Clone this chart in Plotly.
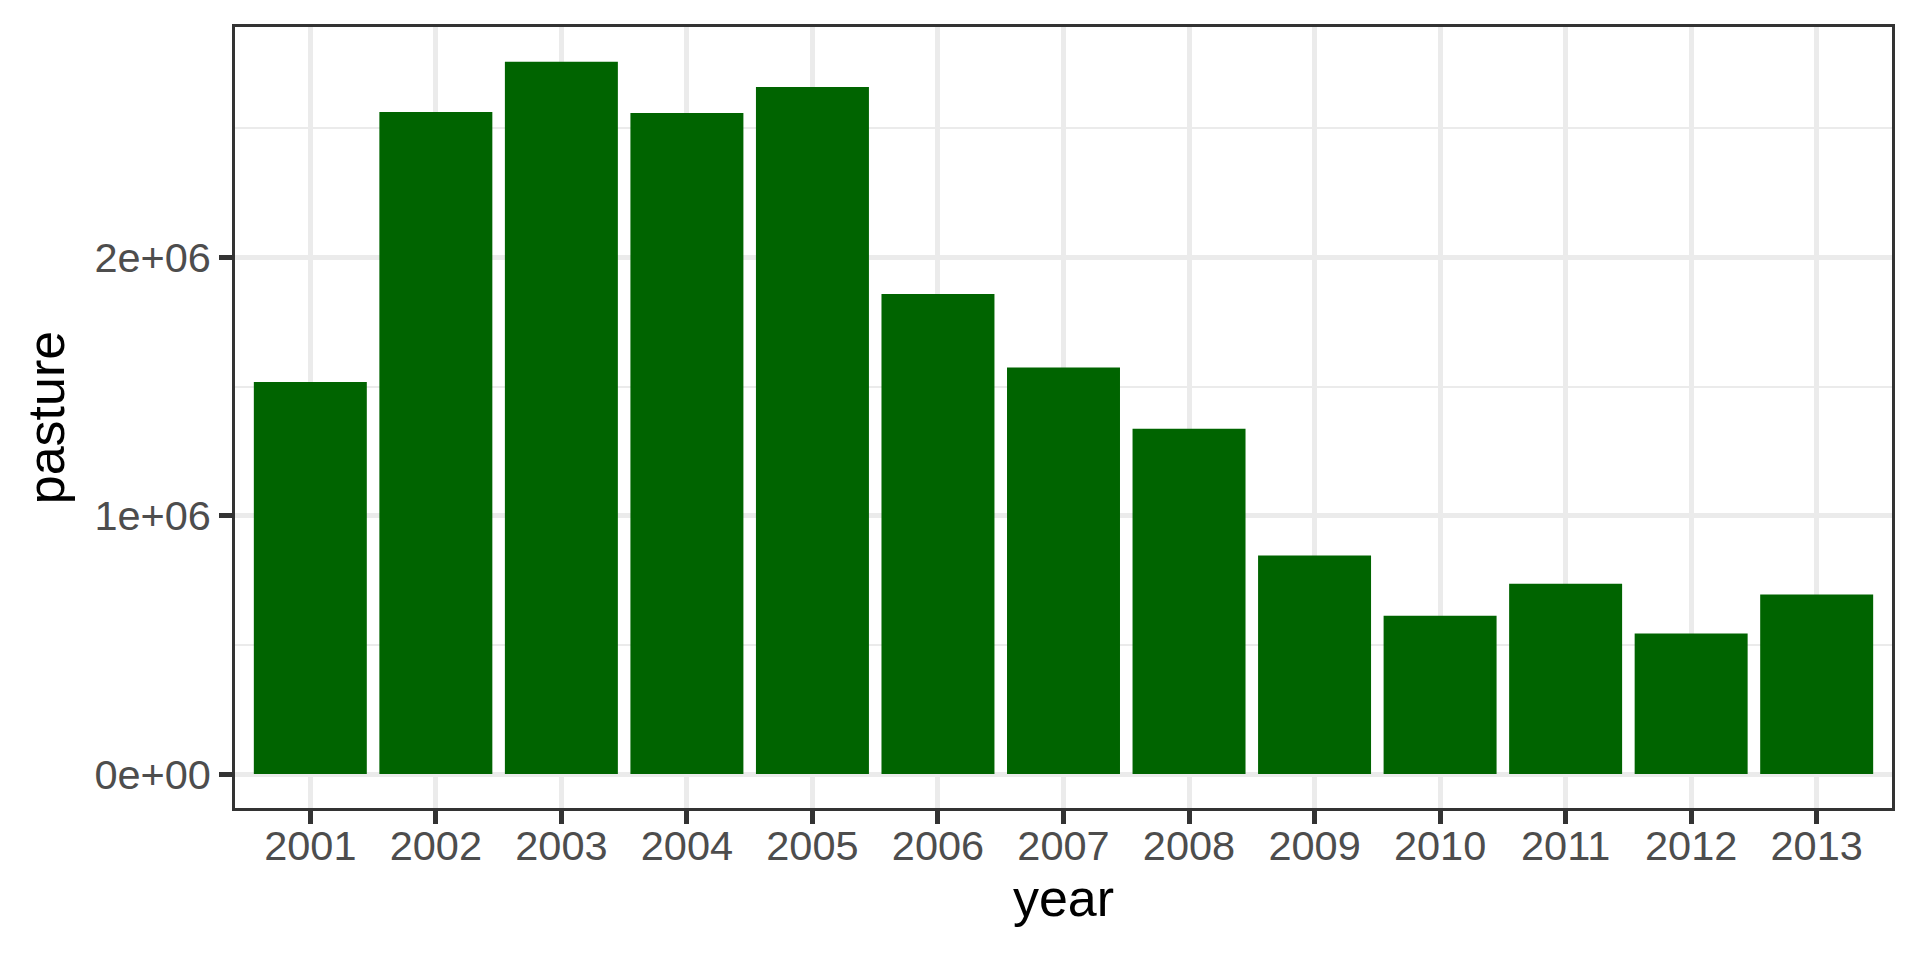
import plotly.graph_objects as go

# pasture area per year
years = ["2001", "2002", "2003", "2004", "2005", "2006", "2007",
         "2008", "2009", "2010", "2011", "2012", "2013"]
pasture = [1518000, 2563000, 2757000, 2559000, 2660000, 1858000, 1574000,
           1337000, 846000, 613000, 737000, 544000, 695000]

y_ticks = [0, 1000000, 2000000]
y_tick_labels = ["0e+00", "1e+06", "2e+06"]
y_minor = [500000, 1500000, 2500000]

GRID = "#EBEBEB"
DARK = "#333333"

fig = go.Figure()
fig.add_trace(go.Bar(x=years, y=pasture, width=0.9,
                     marker=dict(color="#006400", line=dict(width=0)),
                     showlegend=False))

axis_common = dict(
    showline=True, mirror=True, linecolor=DARK, linewidth=2.5,
    ticks="outside", ticklen=13, tickwidth=4.5, tickcolor=DARK,
    showgrid=True, gridcolor=GRID, gridwidth=4.5,
    tickfont=dict(family="Liberation Sans", size=41.5, color="#4D4D4D"),
)

fig.update_xaxes(
    type="category", range=[-0.6, 12.6],
    ticklabelstandoff=-14,
    title=dict(text="year", font=dict(family="Liberation Sans", size=52, color="black"),
               standoff=11),
    automargin=False,
    **axis_common,
)
fig.update_yaxes(
    range=[-131600, 2892000],
    tickvals=y_ticks, ticktext=y_tick_labels,
    zeroline=True, zerolinecolor=GRID, zerolinewidth=4.5,
    minor=dict(tickvals=y_minor, showgrid=True, gridcolor=GRID, gridwidth=2.3, ticks=""),
    title=dict(text="pasture", font=dict(family="Liberation Sans", size=52, color="black"),
               standoff=14),
    automargin=False,
    **axis_common,
)

# the page body adds an 8px margin, so the figure is 8px smaller than the window
fig.update_layout(
    width=1912, height=952,
    margin=dict(l=227, r=28, t=19, b=152),
    plot_bgcolor="white", paper_bgcolor="white",
    bargap=0.1,
)

fig.write_html("out.html")
